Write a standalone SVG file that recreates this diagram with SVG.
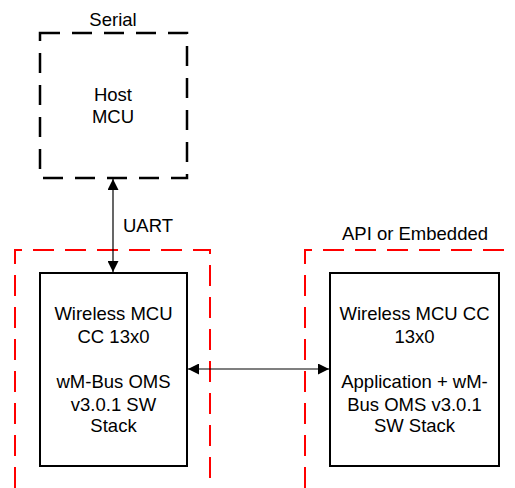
<svg xmlns="http://www.w3.org/2000/svg" width="515" height="488" viewBox="0 0 515 488">
<style>
text{font-family:"Liberation Sans",Arial,sans-serif;font-size:18.5px;fill:#000}
.c{text-anchor:middle}
.host{fill:#fff;stroke:#000;stroke-width:2.5;stroke-dasharray:20 12}
.zone{fill:none;stroke:#ff0000;stroke-width:2;stroke-dasharray:21 11}
.mcu{fill:#fff;stroke:#000;stroke-width:2}
.conn{stroke:#000;stroke-width:1.2;fill:none}
</style>
<defs>
<marker id="ah" viewBox="0 0 11 11" refX="11" refY="5.5" markerWidth="11" markerHeight="11" markerUnits="userSpaceOnUse" orient="auto-start-reverse">
<path d="M0,0 L11,5.5 L0,11 Z" fill="#000"/>
</marker>
</defs>
<g id="zone-left">
<path class="zone" d="M15,488 L15,250 L210,250 L210,488"/>
</g>
<g id="zone-right">
<path class="zone" d="M305,488 L305,250 L515,250"/>
<text class="c" x="415" y="240">API or Embedded</text>
</g>
<g id="host">
<text class="c" x="113" y="26">Serial</text>
<rect class="host" x="40" y="33" width="147" height="145"/>
<text class="c" x="113" y="100.5">Host</text>
<text class="c" x="113" y="123">MCU</text>
</g>
<g id="mcu-left">
<rect class="mcu" x="40" y="273" width="147" height="193"/>
<text class="c" x="113.5" y="319.5">Wireless MCU</text>
<text class="c" x="113.5" y="342.5">CC 13x0</text>
<text class="c" x="113.5" y="388">wM-Bus OMS</text>
<text class="c" x="113.5" y="410.5">v3.0.1 SW</text>
<text class="c" x="113.5" y="432">Stack</text>
</g>
<g id="mcu-right">
<rect class="mcu" x="330" y="273" width="169" height="193"/>
<text class="c" x="414.5" y="319.5">Wireless MCU CC</text>
<text class="c" x="414.5" y="342.5">13x0</text>
<text class="c" x="414.5" y="388">Application + wM-</text>
<text class="c" x="414.5" y="410.5">Bus OMS v3.0.1</text>
<text class="c" x="414.5" y="432">SW Stack</text>
</g>
<g id="connectors">
<line class="conn" x1="113" y1="179" x2="113" y2="272" marker-start="url(#ah)" marker-end="url(#ah)"/>
<text x="123" y="232">UART</text>
<line class="conn" x1="188" y1="369" x2="329" y2="369" marker-start="url(#ah)" marker-end="url(#ah)"/>
</g>
</svg>
